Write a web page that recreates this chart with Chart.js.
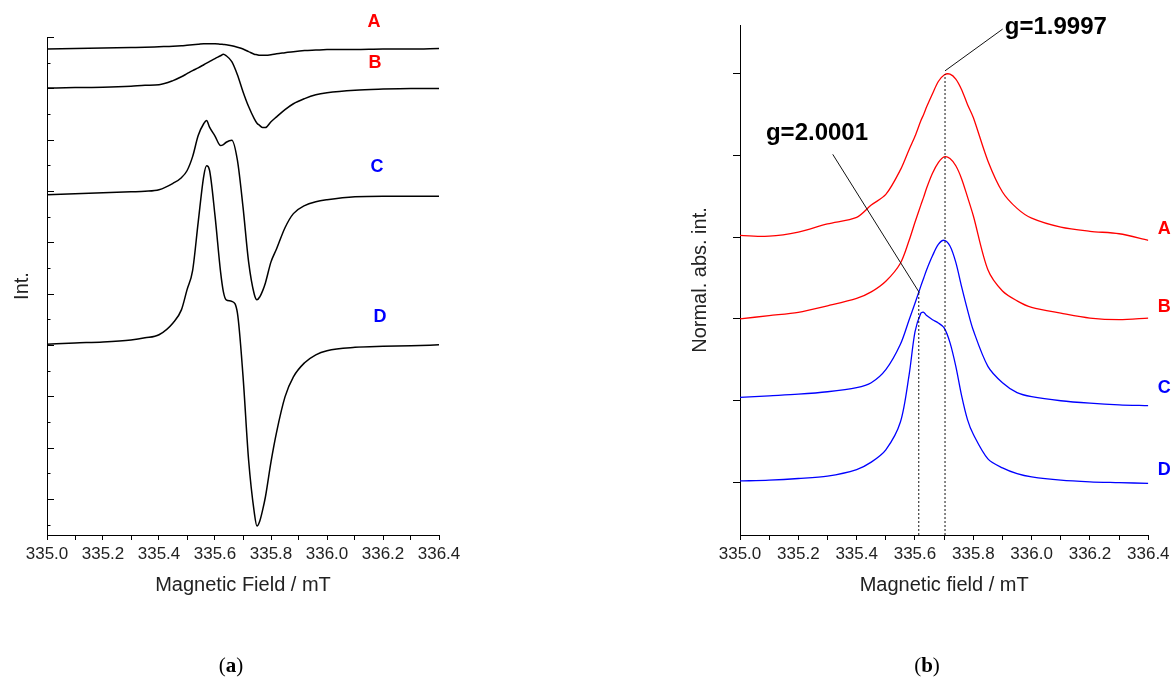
<!DOCTYPE html>
<html>
<head>
<meta charset="utf-8">
<title>EPR spectra</title>
<script src="https://cdn.jsdelivr.net/npm/chart.js@4.4.1/dist/chart.umd.min.js"></script>
<style>
  body { margin: 0; background: #fff; width: 1174px; height: 684px; position: relative; overflow: hidden; }
  canvas { position: absolute; top: 0; }
  #left { left: 0; }
  #right { left: 560px; }
  .cap { position: absolute; transform: translate(-50%, -50%); font-family: 'Liberation Serif', 'DejaVu Serif', serif; font-size: 21px; color: #000; }
</style>
</head>
<body>
<canvas id="left" width="560" height="684"></canvas>
<canvas id="right" width="614" height="684"></canvas>
<div class="cap" style="left:231px; top:665px">(<b>a</b>)</div>
<div class="cap" style="left:927px; top:665px">(<b>b</b>)</div>

<script>
const FONT = "'Liberation Sans', Arial, Helvetica, sans-serif";

// (a) first-derivative spectra, magnetic field in mT
const fieldL = [335.00, 335.10, 335.20, 335.30, 335.35, 335.40, 335.45, 335.48, 335.50, 335.52,
  335.54, 335.56, 335.57, 335.58, 335.60, 335.62, 335.63, 335.64, 335.66, 335.68,
  335.70, 335.72, 335.74, 335.75, 335.76, 335.77, 335.78, 335.80, 335.82, 335.85,
  335.88, 335.92, 335.96, 336.00, 336.10, 336.20, 336.30, 336.40];
const derivA = [18.53, 18.55, 18.57, 18.59, 18.60, 18.62, 18.64, 18.66, 18.68, 18.70,
  18.72, 18.74, 18.74, 18.74, 18.74, 18.72, 18.71, 18.70, 18.66, 18.60,
  18.53, 18.43, 18.33, 18.31, 18.29, 18.29, 18.29, 18.31, 18.35, 18.39,
  18.43, 18.47, 18.49, 18.51, 18.51, 18.53, 18.53, 18.55];
const derivB = [17.01, 17.03, 17.04, 17.08, 17.12, 17.14, 17.30, 17.45, 17.57, 17.69,
  17.80, 17.92, 17.98, 18.04, 18.16, 18.27, 18.33, 18.27, 18.04, 17.53,
  16.87, 16.29, 15.82, 15.64, 15.55, 15.47, 15.47, 15.70, 15.89, 16.17,
  16.40, 16.60, 16.75, 16.83, 16.93, 16.97, 16.99, 16.99];
const derivC = [12.85, 12.89, 12.93, 12.97, 12.99, 13.05, 13.30, 13.52, 13.79, 14.34,
  15.16, 15.63, 15.75, 15.50, 15.14, 14.77, 14.81, 14.90, 14.98, 14.20,
  12.38, 10.24, 8.99, 8.76, 8.88, 9.11, 9.42, 10.24, 10.75, 11.57,
  12.12, 12.43, 12.58, 12.66, 12.78, 12.80, 12.80, 12.80];
const derivD = [7.03, 7.08, 7.12, 7.20, 7.28, 7.40, 7.86, 8.37, 9.15, 9.90,
  11.79, 13.59, 13.98, 13.83, 12.04, 9.84, 9.07, 8.76, 8.70, 8.25,
  5.80, 2.52, 0.50, -0.05, 0.15, 0.57, 1.08, 2.45, 3.61, 4.98,
  5.76, 6.31, 6.62, 6.78, 6.91, 6.95, 6.97, 7.01];

// (b) normalised absorption spectra
const fieldR = [335.0, 335.1, 335.2, 335.3, 335.4, 335.45, 335.5, 335.55, 335.58, 335.6,
  335.62, 335.63, 335.64, 335.66, 335.68, 335.7, 335.72, 335.74, 335.76, 335.78,
  335.8, 335.85, 335.9, 335.95, 336.0, 336.1, 336.2, 336.3, 336.4];
const absA = [3.02, 3.01, 3.06, 3.16, 3.24, 3.39, 3.52, 3.82, 4.07, 4.23,
  4.42, 4.50, 4.59, 4.75, 4.90, 4.98, 4.99, 4.93, 4.80, 4.62,
  4.46, 3.93, 3.55, 3.35, 3.23, 3.12, 3.07, 3.04, 2.96];
const absB = [2.00, 2.04, 2.08, 2.16, 2.25, 2.33, 2.46, 2.68, 2.96, 3.18,
  3.39, 3.49, 3.60, 3.78, 3.91, 3.98, 3.96, 3.87, 3.71, 3.49,
  3.26, 2.60, 2.34, 2.22, 2.14, 2.07, 2.01, 1.99, 2.01];
const absC = [1.04, 1.06, 1.08, 1.11, 1.16, 1.22, 1.38, 1.69, 1.99, 2.19,
  2.40, 2.50, 2.60, 2.77, 2.91, 2.96, 2.89, 2.69, 2.39, 2.11,
  1.86, 1.42, 1.22, 1.10, 1.05, 1.00, 0.97, 0.95, 0.94];
const absD = [0.02, 0.03, 0.05, 0.08, 0.16, 0.25, 0.40, 0.74, 1.32, 1.84,
  2.07, 2.08, 2.04, 1.99, 1.95, 1.89, 1.71, 1.42, 1.06, 0.77,
  0.59, 0.29, 0.18, 0.11, 0.07, 0.03, 0.01, 0.00, -0.01];

const sampleNames = ['A', 'B', 'C', 'D'];
const sampleColors = ['#ff0000', '#ff0000', '#0000ff', '#0000ff'];
const leftTicksY = [0, 1, 2, 3, 4, 5, 6, 7, 8, 9, 10, 11, 12, 13, 14, 15, 16, 17, 18, 19];
const rightTicksY = [0, 1, 2, 3, 4, 5];
const gValues = ['g=1.9997', 'g=2.0001'];
const gFields = [335.703, 335.613];   // mT, dotted markers

const pts = (xs, ys) => xs.map((x, i) => ({x: x, y: ys[i]}));

function trace(xs, ys, color, w, smooth) {
  const ds = {data: pts(xs, ys), borderColor: color, borderWidth: w, pointRadius: 0, fill: false};
  if (smooth) ds.tension = smooth; else ds.cubicInterpolationMode = 'monotone';
  return ds;
}
function segment(x0, y0, x1, y1, dash) {
  return {data: [{x: x0, y: y0}, {x: x1, y: y1}], borderColor: '#111', borderWidth: 1,
    borderDash: dash || [], pointRadius: 0, tension: 0, fill: false};
}

function xAxis(title) {
  return {
    type: 'linear', min: 335.0, max: 336.4,
    ticks: {stepSize: 0.1, autoSkip: false, maxRotation: 0, minRotation: 0, padding: 4,
      color: '#222', font: {family: FONT, size: 17},
      callback: v => Math.round(v * 10) % 2 === 0 ? v.toFixed(1) : ''},
    grid: {display: true, drawOnChartArea: false, drawTicks: true, tickLength: 5, color: '#000'},
    border: {display: true, color: '#000', width: 1},
    title: {display: true, text: title, color: '#222', font: {family: FONT, size: 20},
      padding: {top: 0, bottom: 87}},
    afterFit: s => { s.height = 149; }
  };
}

// small drawing helper: inner ticks and text tags placed through the scales
function decor(innerTicks, texts) {
  return {
    id: 'decor',
    afterDraw(chart) {
      const {ctx, chartArea: a, scales: {x, y}} = chart;
      ctx.save();
      ctx.strokeStyle = '#000';
      ctx.lineWidth = 1;
      innerTicks.forEach(v => {
        const py = Math.round(y.getPixelForValue(v)) + 0.5;
        const len = v % 2 ? 7 : 3.5;
        ctx.beginPath();
        ctx.moveTo(a.left, py);
        ctx.lineTo(a.left + len, py);
        ctx.stroke();
      });
      texts.forEach(t => {
        ctx.font = t.font;
        ctx.fillStyle = t.color;
        ctx.textAlign = t.align || 'center';
        ctx.textBaseline = t.base || 'middle';
        ctx.fillText(t.text, x.getPixelForValue(t.at[0]), y.getPixelForValue(t.at[1]));
      });
      ctx.restore();
    }
  };
}

// ---- panel (a)
const leftTagPos = [[336.168, 19.57], [336.171, 17.99], [336.179, 13.92], [336.189, 8.11]];
new Chart(document.getElementById('left'), {
  type: 'line',
  data: {
    datasets: [
      trace(fieldL, derivA, '#000', 1.5),
      trace(fieldL, derivB, '#000', 1.5),
      trace(fieldL, derivC, '#000', 1.5),
      trace(fieldL, derivD, '#000', 1.5)
    ]
  },
  options: {
    responsive: false, animation: false,
    layout: {padding: {top: 37, left: 0, right: 121, bottom: 0}},
    plugins: {legend: {display: false}, tooltip: {enabled: false}},
    scales: {
      x: xAxis('Magnetic Field / mT'),
      y: {
        min: -0.4, max: 19.0,
        ticks: {display: false},
        grid: {display: false},
        border: {display: true, color: '#000', width: 1},
        title: {display: true, text: 'Int.', color: '#222', font: {family: FONT, size: 20},
          padding: {top: 10, bottom: 0}},
        afterFit: s => { s.width = 47; }
      }
    }
  },
  plugins: [decor(leftTicksY, sampleNames.map((n, i) => ({
    text: n, at: leftTagPos[i], font: 'bold 18px ' + FONT, color: sampleColors[i]})))]
});

// ---- panel (b)
const rightTagPos = [[336.455, 3.10], [336.455, 2.15], [336.455, 1.16], [336.455, 0.155]];
new Chart(document.getElementById('right'), {
  type: 'line',
  data: {
    datasets: [
      segment(gFields[0], -0.64, gFields[0], 4.99, [2, 2]),
      segment(gFields[1], -0.64, gFields[1], 2.32, [2, 2]),
      segment(335.703, 5.03, 335.9006, 5.54),
      segment(335.318, 4.01, 335.615, 2.32),
      trace(fieldR, absA, '#ff0000', 1.3, 0.3),
      trace(fieldR, absB, '#ff0000', 1.3, 0.3),
      trace(fieldR, absC, '#0000ff', 1.3, 0.3),
      trace(fieldR, absD, '#0000ff', 1.3, 0.3)
    ]
  },
  options: {
    responsive: false, animation: false,
    layout: {padding: {top: 25, left: 0, right: 25.7, bottom: 0}},
    plugins: {legend: {display: false}, tooltip: {enabled: false}},
    scales: {
      x: xAxis('Magnetic field / mT'),
      y: {
        min: -0.64, max: 5.59,
        afterBuildTicks: s => { s.ticks = rightTicksY.map(v => ({value: v})); },
        ticks: {display: false},
        grid: {display: true, drawOnChartArea: false, drawTicks: true, tickLength: 7, color: '#000'},
        border: {display: true, color: '#000', width: 1},
        title: {display: true, text: 'Normal. abs. int.', color: '#222', font: {family: FONT, size: 20},
          padding: {top: 128, bottom: 0}},
        afterFit: s => { s.width = 180; }
      }
    }
  },
  plugins: [decor([], sampleNames.map((n, i) => ({
      text: n, at: rightTagPos[i], font: 'bold 18px ' + FONT, color: sampleColors[i]}))
    .concat([
      {text: gValues[0], at: [335.908, 5.485], font: 'bold 24px ' + FONT, color: '#000', align: 'left', base: 'alphabetic'},
      {text: gValues[1], at: [335.089, 4.18], font: 'bold 24px ' + FONT, color: '#000', align: 'left', base: 'alphabetic'}
    ]))]
});
</script>
</body>
</html>
